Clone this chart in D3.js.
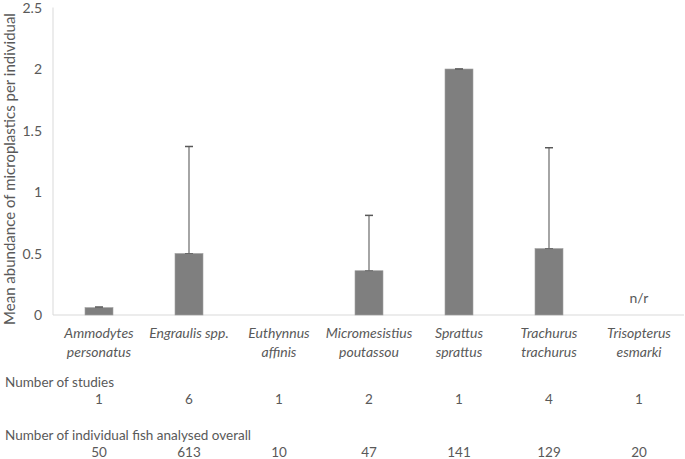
<!DOCTYPE html>
<html>
<head>
<meta charset="utf-8">
<script src="https://cdn.jsdelivr.net/npm/d3@7"></script>
<style>
body{margin:0;background:#fff;}
text{font-family:Lato,"Open Sans",sans-serif;fill:#595959;}
</style>
</head>
<body>
<script>
var w=685,h=459;
var species=[["Ammodytes","personatus"],["Engraulis spp."],["Euthynnus","affinis"],["Micromesistius","poutassou"],["Sprattus","sprattus"],["Trachurus","trachurus"],["Trisopterus","esmarki"]];
var means=[0.06,0.5,null,0.36,2.0,0.54,null];
var errTop=[0.065,1.37,null,0.81,2.0,1.36,null];
var reported=[true,true,true,true,true,true,false];
var studies=[1,6,1,2,1,4,1];
var fish=[50,613,10,47,141,129,20];
var yTicks=[0,0.5,1,1.5,2,2.5];

var svg=d3.select('body').append('svg').attr('width',w).attr('height',h);

var x=d3.scaleBand().domain(d3.range(species.length)).range([54,684]).padding(0);
var y=d3.scaleLinear().domain([0,2.5]).range([315,7.5]);
var barW=28;
var fs='13.5px';

// axes lines
svg.append('line').attr('x1',53).attr('x2',53).attr('y1',y(2.5)).attr('y2',y(0))
  .attr('stroke','#d9d9d9').attr('stroke-width',1);
svg.append('line').attr('x1',53).attr('x2',684).attr('y1',y(0)).attr('y2',y(0))
  .attr('stroke','#d9d9d9').attr('stroke-width',1);

svg.selectAll('text.ytick').data(yTicks).enter().append('text').attr('class','ytick')
  .attr('x',42).attr('y',function(d){return y(d)+5;})
  .attr('text-anchor','end').style('font-size','14px')
  .text(function(d){return d;});

svg.append('text').attr('transform','translate(15,'+169+') rotate(-90)')
  .attr('text-anchor','middle').style('font-size','15px')
  .text('Mean abundance of microplastics per individual');

// bars
var idx=d3.range(species.length);
svg.selectAll('rect.bar').data(idx.filter(function(i){return means[i]!=null;})).enter().append('rect')
  .attr('class','bar')
  .attr('x',function(i){return x(i)+x.bandwidth()/2-barW/2;})
  .attr('y',function(i){return y(means[i]);})
  .attr('width',barW)
  .attr('height',function(i){return y(0)-y(means[i]);})
  .attr('fill','#7f7f7f').attr('stroke','#a0a0a0').attr('stroke-width',0.6);

// error bars
var eb=idx.filter(function(i){return errTop[i]!=null;});
svg.selectAll('line.err').data(eb).enter().append('line').attr('class','err')
  .attr('x1',function(i){return x(i)+x.bandwidth()/2;})
  .attr('x2',function(i){return x(i)+x.bandwidth()/2;})
  .attr('y1',function(i){return y(means[i]);})
  .attr('y2',function(i){return y(errTop[i]);})
  .attr('stroke','#6a6a6a').attr('stroke-width',1.2);
svg.selectAll('line.cap').data(eb).enter().append('line').attr('class','cap')
  .attr('x1',function(i){return x(i)+x.bandwidth()/2-4;})
  .attr('x2',function(i){return x(i)+x.bandwidth()/2+4;})
  .attr('y1',function(i){return y(errTop[i]);})
  .attr('y2',function(i){return y(errTop[i]);})
  .attr('stroke','#595959').attr('stroke-width',1.5);
svg.selectAll('line.capb').data(eb).enter().append('line').attr('class','capb')
  .attr('x1',function(i){return x(i)+x.bandwidth()/2-4;})
  .attr('x2',function(i){return x(i)+x.bandwidth()/2+4;})
  .attr('y1',function(i){return y(means[i]);})
  .attr('y2',function(i){return y(means[i]);})
  .attr('stroke','#6a6a6a').attr('stroke-width',1);

// n/r
svg.selectAll('text.nr').data(idx.filter(function(i){return !reported[i];})).enter().append('text')
  .attr('class','nr')
  .attr('x',function(i){return x(i)+x.bandwidth()/2;})
  .attr('y',y(0)-12)
  .attr('text-anchor','middle').style('font-size','14px').text('n/r');

// category labels
var cat=svg.selectAll('text.cat').data(idx).enter().append('text').attr('class','cat')
  .attr('text-anchor','middle').style('font-size','14px').style('font-style','italic');
cat.selectAll('tspan').data(function(i){return species[i].map(function(s){return {s:s,i:i};});})
  .enter().append('tspan')
  .attr('x',function(d){return x(d.i)+x.bandwidth()/2;})
  .attr('y',function(d,k){return 338+k*19;})
  .text(function(d){return d.s;});

// table rows
svg.append('text').attr('x',5).attr('y',387).style('font-size',fs).text('Number of studies');
svg.selectAll('text.st').data(studies).enter().append('text')
  .attr('x',function(d,i){return x(i)+x.bandwidth()/2;}).attr('y',404)
  .attr('text-anchor','middle').style('font-size',fs).text(function(d){return d;});
svg.append('text').attr('x',5).attr('y',440).style('font-size',fs).text('Number of individual fish analysed overall');
svg.selectAll('text.fi').data(fish).enter().append('text')
  .attr('x',function(d,i){return x(i)+x.bandwidth()/2;}).attr('y',457)
  .attr('text-anchor','middle').style('font-size',fs).text(function(d){return d;});
</script>
</body>
</html>
